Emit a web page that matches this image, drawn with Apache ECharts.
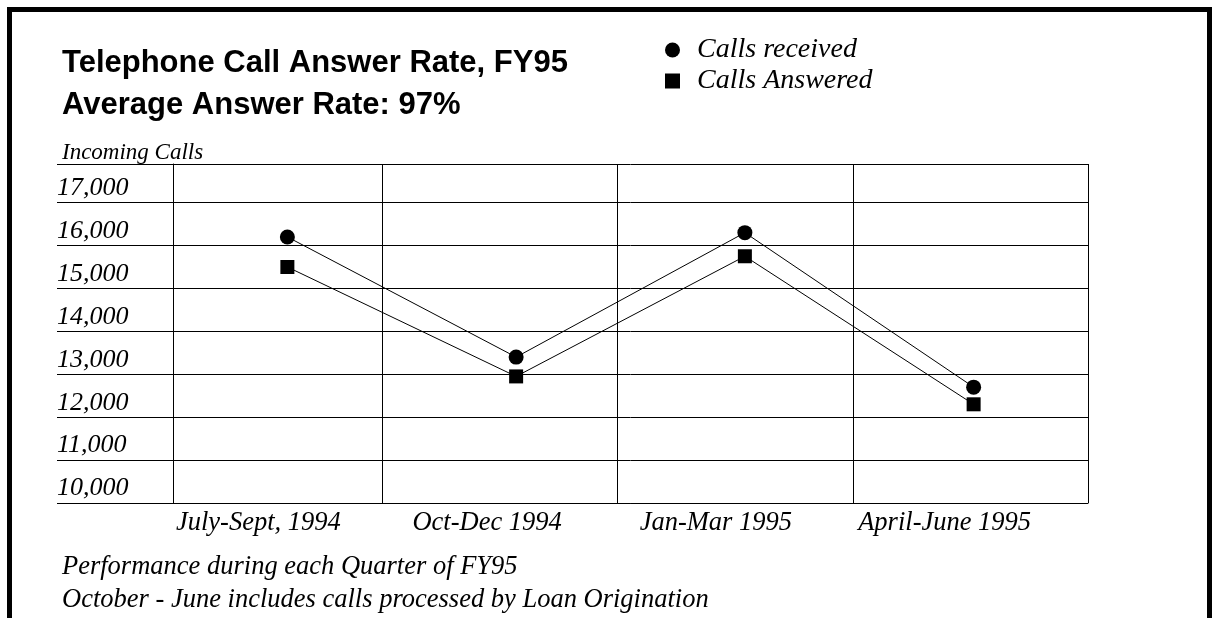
<!DOCTYPE html>
<html><head><meta charset="utf-8">
<script src="https://cdn.jsdelivr.net/npm/echarts@6/dist/echarts.min.js"></script>
<style>html,body{margin:0;padding:0;background:#fff}#c{width:1214px;height:618px}</style>
</head><body><div id="c"></div>
<script>
const categories = ['July-Sept, 1994', 'Oct-Dec 1994', 'Jan-Mar 1995', 'April-June 1995'];
const callsReceived = [15700, 12900, 15800, 12200];
const callsAnswered = [15000, 12450, 15250, 11800];
const yLabelValues = [10000, 11000, 12000, 13000, 14000, 15000, 16000, 17000];
const yGridValues = [9500, 10500, 11500, 12500, 13500, 14500, 15500, 16500, 17400];
const Y_MIN = 9500, Y_MAX = 17400;
const titleLines = ['Telephone Call Answer Rate, FY95', 'Average Answer Rate: 97%'];
const yAxisTitle = 'Incoming Calls';
const notes = ['Performance during each Quarter of FY95', 'October - June includes calls processed by Loan Origination'];
const seriesNames = ['Calls received', 'Calls Answered'];

// column divider positions of the original drawing (in category widths)
const columnDividers = [0, 0.914, 1.941, 2.973, 4];

const serif = "'Liberation Serif','Times New Roman',serif";
const fmt = v => String(v).replace(/\B(?=(\d{3})+(?!\d))/g, ',');
const black = '#000';
const chart = echarts.init(document.getElementById('c'), null, {renderer: 'canvas'});
const gridLine = {show: true, lineStyle: {color: black, width: 1, type: 'solid'}};
const italic = size => ({fontFamily: serif, fontStyle: 'italic', fontWeight: 'normal', fontSize: size, color: black});
chart.setOption({
  backgroundColor: '#fff',
  animation: false,
  title: [
    {text: titleLines.join('\n'), left: 57, top: 37,
     textStyle: {fontFamily: "'Liberation Sans',Arial,sans-serif", fontWeight: 'bold', fontSize: 31, lineHeight: 42, color: black}},
    {text: yAxisTitle, left: 57, top: 136, textStyle: italic(23)},
    {text: notes[0], left: 57, top: 549, textStyle: italic(26.5)},
    {text: notes[1], left: 57, top: 582, textStyle: italic(26.5)}
  ],
  legend: {
    orient: 'vertical', left: 660, top: 31, itemWidth: 15, itemHeight: 15, itemGap: 3,
    data: [{name: seriesNames[0], icon: 'circle'}, {name: seriesNames[1], icon: 'rect'}],
    textStyle: Object.assign(italic(28), {padding: [0, 0, 0, 12]})
  },
  graphic: [{
    type: 'rect', silent: true, z: 100,
    shape: {x: 9.5, y: 9.5, width: 1200, height: 700},
    style: {fill: 'none', stroke: black, lineWidth: 5}
  }],
  grid: [
    {left: 173, right: 126, top: 164, bottom: 115},
    {left: 57, width: 116, top: 164, bottom: 115}
  ],
  xAxis: [
    {type: 'category', gridIndex: 0, data: categories, boundaryGap: true,
     axisLine: {show: true, lineStyle: {color: black, width: 1}},
     axisTick: {show: false},
     splitLine: {show: false},
     axisLabel: Object.assign(italic(26.5), {margin: 7, padding: [0, 58, 0, 0], interval: 0})},
    {type: 'value', gridIndex: 1, show: false, min: 0, max: 1},
    {type: 'value', gridIndex: 0, min: 0, max: 4, position: 'top',
     axisLine: {show: false}, axisLabel: {show: false},
     axisTick: {show: false, customValues: columnDividers},
     splitLine: gridLine}
  ],
  yAxis: [
    {type: 'value', gridIndex: 0, min: Y_MIN, max: Y_MAX,
     axisLine: {show: true, lineStyle: {color: black, width: 1}},
     axisTick: {show: false, customValues: yGridValues},
     axisLabel: {show: false},
     splitLine: gridLine},
    {type: 'value', gridIndex: 1, min: Y_MIN, max: Y_MAX,
     axisLine: {show: false},
     axisTick: {show: false, customValues: yGridValues},
     axisLabel: Object.assign(italic(26), {show: true, inside: true, customValues: yLabelValues, formatter: fmt, margin: 0,
                 verticalAlign: 'top', lineHeight: 14}),
     splitLine: gridLine}
  ],
  series: [
    {name: seriesNames[0], type: 'line', xAxisIndex: 0, yAxisIndex: 0, data: callsReceived,
     symbol: 'circle', symbolSize: 15, showAllSymbol: true,
     itemStyle: {color: black}, lineStyle: {color: black, width: 1}},
    {name: seriesNames[1], type: 'line', xAxisIndex: 0, yAxisIndex: 0, data: callsAnswered,
     symbol: 'rect', symbolSize: 14, showAllSymbol: true,
     itemStyle: {color: black}, lineStyle: {color: black, width: 1}}
  ]
});
</script></body></html>
